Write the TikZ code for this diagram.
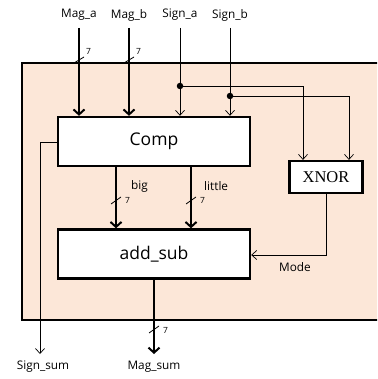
\documentclass[tikz,border=0pt]{standalone}
\usepackage{fontspec}
\setmainfont{Open Sans}
\newfontfamily\serifx{Liberation Serif}
\usetikzlibrary{arrows.meta}
\definecolor{peach}{HTML}{FCE7D8}
\tikzset{
  blk/.style={draw, line width=2.4pt, fill=white, minimum width=192pt, minimum height=49pt, inner sep=0pt, font=\fontsize{17.5}{17.5}\selectfont},
  xbox/.style={draw, line width=2.2pt, fill=white, minimum width=73pt, minimum height=32pt, inner sep=0pt, font=\serifx\fontsize{16.5}{16.5}\selectfont},
  thin/.style={line width=0.7pt, -{Straight Barb[length=5pt,width=9pt]}},
  thick/.style={line width=2pt, -{Straight Barb[length=5pt,width=11pt,line width=2pt]}},
  lbl/.style={font=\fontsize{11.8}{11.8}\selectfont, inner sep=0pt},
  num/.style={font=\fontsize{8.5}{8.5}\selectfont, inner sep=0pt, anchor=west},
  dotc/.style={circle, fill=black, inner sep=0pt, minimum size=6.5pt},
}
\begin{document}
\begin{tikzpicture}[x=1pt,y=-1pt]
\useasboundingbox (0,0) rectangle (377,379);
\clip (0,0) rectangle (377,379);
\draw[line width=2.6pt, fill=peach] (22,63) rectangle (400,320);
\node[blk] (comp) at (154,141.5) {Comp};
\node[blk] (add) at (154,254) {add\_sub};
\node[xbox] (xnor) at (326,177) {XNOR};
% input labels
\node[lbl] (ma) at (79,15) {Mag\_a};
\node[lbl] (mb) at (129,15) {Mag\_b};
\node[lbl] (sa) at (180,15) {Sign\_a};
\node[lbl] (sb) at (230,15) {Sign\_b};
\coordinate (ma1) at (79,28);
\coordinate (mb1) at (129,28);
\coordinate (sa1) at (180,28);
\coordinate (sb1) at (230,28);
\draw[thick] (ma1) -- (comp.north -| ma1);
\draw[thick] (mb1) -- (comp.north -| mb1);
\draw[thin] (sa1) -- (comp.north -| sa1);
\draw[thin] (sb1) -- (comp.north -| sb1);
\draw[line width=0.8pt] (74,63) -- (84,57);
\draw[line width=0.8pt] (124,63) -- (134,57);
\node[num] at (86,51) {7};
\node[num] at (136,51) {7};
% sign dots to XNOR
\node[dotc] (da) at (180,86) {};
\node[dotc] (db) at (230,96) {};
\draw[thin] (da) -- (303,86) -- (xnor.north -| 303,0);
\draw[thin] (db) -- (349,96) -- (xnor.north -| 349,0);
% big / little
\draw[thick] (comp.south -| 116,0) -- (add.north -| 116,0);
\draw[thick] (comp.south -| 191,0) -- (add.north -| 191,0);
\draw[line width=0.8pt] (111,204) -- (121,197);
\draw[line width=0.8pt] (186,204) -- (196,197);
\node[num] at (125,200) {7};
\node[num] at (200,200) {7};
\node[lbl, anchor=west] (big) at (131,186) {big};
\node[lbl, anchor=west] (lit) at (204,186) {little};
% Mode
\draw[thin] (xnor.south) -- (326,255) -- (add.east |- 0,255);
\node[lbl] (mode) at (295,267) {Mode};
% Sign_sum
\coordinate (ss1) at (40,354);
\draw[thin] (comp.west |- 0,142) -- (40,142) -- (ss1);
\node[lbl] (ss) at (43,367) {Sign\_sum};
% Mag_sum
\coordinate (ms1) at (154,354);
\draw[thick] (add.south) -- (ms1);
\draw[line width=0.8pt] (149,333) -- (159,326);
\node[num] at (163,330) {7};
\node[lbl] (ms) at (154,367) {Mag\_sum};
\end{tikzpicture}
\end{document}
